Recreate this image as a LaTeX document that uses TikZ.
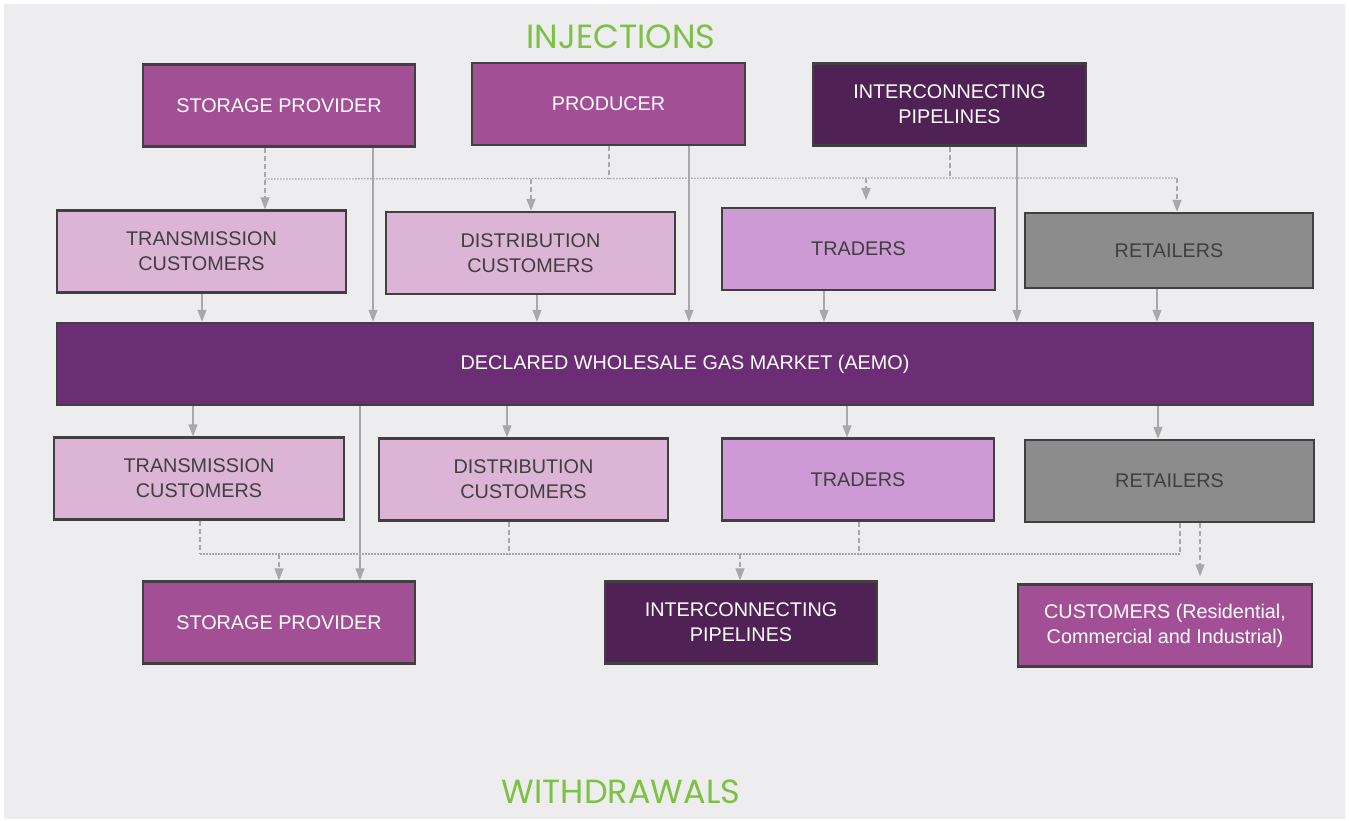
\documentclass[tikz,border=0pt]{standalone}
\usepackage{fontspec}
\setmainfont{Liberation Sans}
\newfontfamily\titlefont{Poppins}
\usetikzlibrary{arrows.meta}

\definecolor{bgfill}{HTML}{EDEDEF}
\definecolor{boxline}{HTML}{404040}
\definecolor{midpurple}{HTML}{A24F96}
\definecolor{darkpurple}{HTML}{4F2155}
\definecolor{marketpurple}{HTML}{6B2D73}
\definecolor{lightpink}{HTML}{DCB5D6}
\definecolor{traderpink}{HTML}{CE9AD6}
\definecolor{retailgray}{HTML}{8C8C8C}
\definecolor{linkgray}{HTML}{A8A8A8}
\definecolor{textgray}{HTML}{3F3F3F}
\definecolor{titlegreen}{HTML}{7DC143}

\begin{document}
\begin{tikzpicture}[x=1pt, y=-1pt,
        box/.style={draw=boxline, line width=2.4pt, minimum height=82pt,
            inner sep=0, align=center, font=\fontsize{19.8}{25}\selectfont},
        mid/.style={box, fill=midpurple, text=white},
        dark/.style={box, fill=darkpurple, text=white},
        light/.style={box, fill=lightpink, text=textgray},
        trader/.style={box, fill=traderpink, text=textgray},
        retail/.style={box, fill=retailgray, text=textgray},
        flow/.style={draw=linkgray, line width=1.2pt,
            -{Triangle[length=12pt, width=9pt]}},
        link/.style={draw=linkgray, line width=1.2pt},
        dashlink/.style={link, dash pattern=on 5pt off 3pt},
        dotlink/.style={link, dash pattern=on 1.5pt off 1.5pt},
        title/.style={text=titlegreen, font=\titlefont\fontsize{33.5}{38}\selectfont}]

    % background
    \useasboundingbox (0,0) rectangle (1349,821);
    \fill[bgfill] (4,4) rectangle (1345,819);

    \node[title] (inj) at (621,37) {INJECTIONS};
    \node[title] (wdr) at (621,792) {WITHDRAWALS};

    % injections
    \node[mid,  minimum width=272pt] (spT)  at (279,105.5) {STORAGE PROVIDER};
    \node[mid,  minimum width=273pt] (prod) at (608.5,104) {PRODUCER};
    \node[dark, minimum width=273pt] (ipT)  at (949.5,104.5) {INTERCONNECTING\\PIPELINES};
    \node[light,  minimum width=289pt] (tcT) at (201.5,251.5) {TRANSMISSION\\CUSTOMERS};
    \node[light,  minimum width=289pt] (dcT) at (530.5,253) {DISTRIBUTION\\CUSTOMERS};
    \node[trader, minimum width=273pt] (trT) at (858.5,249) {TRADERS};
    \node[retail, minimum width=288pt, minimum height=75pt] (rtT) at (1169,250.5) {RETAILERS};

    % market
    \node[box, fill=marketpurple, text=white, minimum width=1256pt] (dwgm) at (685,364)
        {DECLARED WHOLESALE GAS MARKET (AEMO)};

    % withdrawals
    \node[light,  minimum width=290pt] (tcB) at (199,478.5) {TRANSMISSION\\CUSTOMERS};
    \node[light,  minimum width=289pt] (dcB) at (523.5,479.5) {DISTRIBUTION\\CUSTOMERS};
    \node[trader, minimum width=272pt] (trB) at (858,479.5) {TRADERS};
    \node[retail, minimum width=289pt] (rtB) at (1169.5,481) {RETAILERS};
    \node[mid,  minimum width=272pt] (spB)  at (279,622.5) {STORAGE PROVIDER};
    \node[dark, minimum width=272pt] (ipB)  at (741,622.5) {INTERCONNECTING\\PIPELINES};
    \node[mid,  minimum width=294pt] (cust) at (1165,625.5)
        {CUSTOMERS (Residential,\\Commercial and Industrial)};

    % solid flows into the market
    \draw[flow] (373,0 |- spT.south)  -- (373,0 |- dwgm.north);
    \draw[flow] (689,0 |- prod.south) -- (689,0 |- dwgm.north);
    \draw[flow] (1017,0 |- ipT.south) -- (1017,0 |- dwgm.north);
    \draw[flow] (202,0 |- tcT.south)  -- (202,0 |- dwgm.north);
    \draw[flow] (537,0 |- dcT.south)  -- (537,0 |- dwgm.north);
    \draw[flow] (824,0 |- trT.south)  -- (824,0 |- dwgm.north);
    \draw[flow] (1157,0 |- rtT.south) -- (1157,0 |- dwgm.north);

    % dashed links between injectors
    \coordinate (j1) at (265,179);
    \coordinate (j2) at (531,179);
    \coordinate (j3) at (609,179);
    \coordinate (j4) at (866,178);
    \coordinate (j5) at (950,178);
    \coordinate (j6) at (1177,178);
    \draw[dashlink] (j3 |- prod.south) -- (j3);
    \draw[dashlink] (j5 |- ipT.south) -- (j5);
    \draw[dotlink] (j1) -- (j4) -- (j6);
    \draw[flow, dashlink] (j1 |- spT.south) -- (j1 |- tcT.north);
    \draw[flow, dashlink] (j2) -- (j2 |- dcT.north);
    \draw[flow, dashlink] (j4) -- ++(0,22);
    \draw[flow, dashlink] (j6) -- (j6 |- rtT.north);

    % market to withdrawers
    \draw[flow] (193,0 |- dwgm.south)  -- (193,0 |- tcB.north);
    \draw[flow] (507,0 |- dwgm.south)  -- (507,0 |- dcB.north);
    \draw[flow] (847,0 |- dwgm.south)  -- (847,0 |- trB.north);
    \draw[flow] (1158,0 |- dwgm.south) -- (1158,0 |- rtB.north);
    \draw[flow] (360,0 |- dwgm.south)  -- (360,0 |- spB.north);

    % dashed links below
    \coordinate (k1) at (200,554);
    \coordinate (k2) at (279,554);
    \coordinate (k3) at (509,554);
    \coordinate (k4) at (740,554);
    \coordinate (k5) at (859,554);
    \coordinate (k6) at (1180,554);
    \coordinate (k7) at (1200,554);
    \draw[dashlink] (k1 |- tcB.south) -- (k1);
    \draw[dashlink] (k3 |- dcB.south) -- (k3);
    \draw[dashlink] (k5 |- trB.south) -- (k5);
    \draw[dashlink] (k6 |- rtB.south) -- (k6);
    \draw[dotlink] (k1) -- (k6);
    \draw[flow, dashlink] (k2) -- (k2 |- spB.north);
    \draw[flow, dashlink] (k4) -- (k4 |- ipB.north);
    \draw[flow, dashlink] (k7 |- rtB.south) -- ([yshift=7pt]k7 |- cust.north);
\end{tikzpicture}
\end{document}
